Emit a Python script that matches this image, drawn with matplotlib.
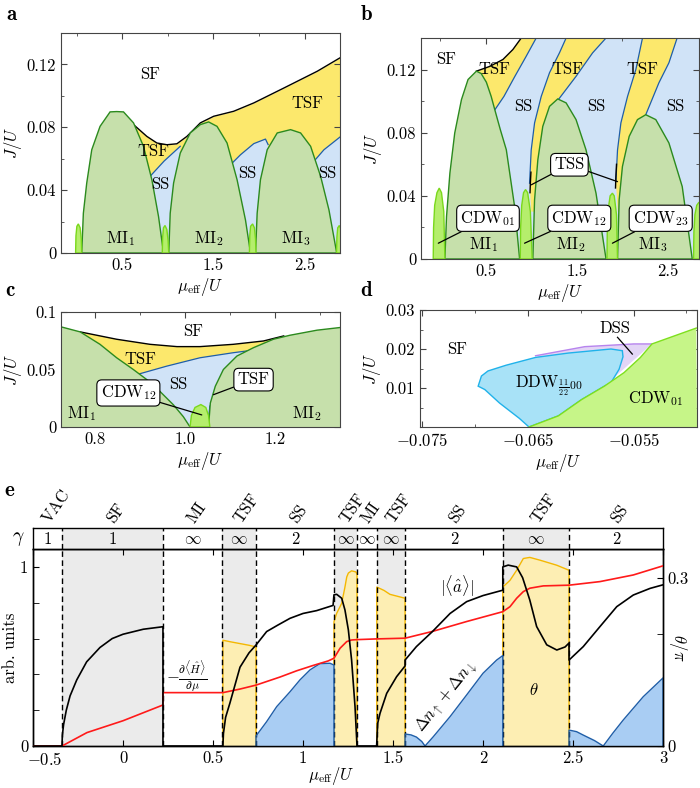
"""Phase diagrams (a-d) and a cut through the phases at fixed J (e)."""
import matplotlib
matplotlib.use("Agg")
import matplotlib.pyplot as plt

plt.rcParams.update({
    "font.family": "serif",
    "font.serif": ["cmr10"],
    "mathtext.fontset": "cm",
    "axes.unicode_minus": False,
    "axes.formatter.use_mathtext": True,
    "font.size": 12,
})

# ---------------- panel a ----------------
a_sf_mu = [0.625, 0.771, 0.881, 0.991, 1.10, 1.21, 1.357, 1.503, 1.723, 1.943, 2.273, 2.64, 2.888]
a_sf_J = [0.0817, 0.0742, 0.0700, 0.0689, 0.0695, 0.0742, 0.0828, 0.0870, 0.0902, 0.0955, 0.1050, 0.1157, 0.1242]
a_mi_lobes = [
    ([0.057, 0.075, 0.112, 0.167, 0.258, 0.368, 0.44, 0.515, 0.625, 0.734, 0.826, 0.899, 0.954],
     [0, 0.0253, 0.0445, 0.0657, 0.0806, 0.0898, 0.0900, 0.0898, 0.0828, 0.0679, 0.0466, 0.0232, 0]),
    ([1.011, 1.027, 1.064, 1.137, 1.247, 1.357, 1.448, 1.54, 1.65, 1.76, 1.852, 1.907],
     [0, 0.0253, 0.0445, 0.0636, 0.0764, 0.0817, 0.0834, 0.0806, 0.0700, 0.0466, 0.0210, 0]),
    ([1.962, 1.98, 2.016, 2.09, 2.2, 2.346, 2.456, 2.566, 2.676, 2.767, 2.852],
     [0, 0.0253, 0.0466, 0.0657, 0.0764, 0.0785, 0.0764, 0.0679, 0.0487, 0.0274, 0]),
]
a_cdw_lobes = [
    ([-0.01, -0.006, 0.004, 0.02, 0.04, 0.052, 0.057], [0, 0.011, 0.017, 0.0185, 0.016, 0.009, 0]),
    ([0.94, 0.944, 0.953, 0.97, 0.99, 1.004, 1.011], [0, 0.010, 0.016, 0.0175, 0.015, 0.008, 0]),
    ([1.895, 1.899, 1.908, 1.93, 1.95, 1.962, 1.967], [0, 0.011, 0.017, 0.0185, 0.016, 0.009, 0]),
    ([2.85, 2.854, 2.863, 2.88, 2.9, 2.9], [0, 0.010, 0.016, 0.0175, 0.015, 0]),
]
a_ss_tops = [
    ([0.789, 0.96, 1.137], [0.0477, 0.0585, 0.0679]),
    ([1.668, 1.797, 1.943, 2.071, 2.10], [0.055, 0.0625, 0.0696, 0.0725, 0.069]),
    ([2.585, 2.712, 2.888], [0.0572, 0.0657, 0.0738]),
]

# ---------------- panel b ----------------
b_sf_mu = [0.398, 0.544, 0.689, 0.798, 0.89]
b_sf_J = [0.119, 0.122, 0.1264, 0.1327, 0.14]
b_mi_lobes = [
    ([0.052, 0.07, 0.107, 0.16, 0.234, 0.306, 0.398, 0.45, 0.507, 0.56, 0.60, 0.66, 0.726, 0.817, 0.872],
     [0, 0.0269, 0.0544, 0.0798, 0.101, 0.1137, 0.119, 0.1175, 0.112, 0.103, 0.0945, 0.082, 0.0692, 0.0332, 0]),
    ([1.017, 1.036, 1.072, 1.126, 1.2, 1.29, 1.382, 1.491, 1.6, 1.71, 1.82],
     [0, 0.0375, 0.0629, 0.084, 0.0967, 0.1014, 0.0989, 0.0883, 0.0692, 0.0417, 0]),
    ([1.946, 1.964, 2.0, 2.074, 2.165, 2.256, 2.366, 2.51, 2.656, 2.766],
     [0, 0.0375, 0.0586, 0.0777, 0.0883, 0.0914, 0.0883, 0.0735, 0.0459, 0]),
]
b_cdw_lobes = [
    ([-0.076, -0.072, -0.06, -0.035, -0.01, 0.015, 0.04, 0.052], [0, 0.02, 0.034, 0.042, 0.0449, 0.042, 0.03, 0]),
    ([0.879, 0.883, 0.895, 0.915, 0.937, 0.96, 0.99, 1.01], [0, 0.02, 0.034, 0.042, 0.044, 0.042, 0.03, 0]),
    ([1.83, 1.834, 1.845, 1.865, 1.89, 1.91, 1.935, 1.946], [0, 0.019, 0.032, 0.04, 0.0417, 0.04, 0.028, 0]),
    ([2.78, 2.784, 2.795, 2.815, 2.84, 2.86, 2.86], [0, 0.017, 0.028, 0.034, 0.036, 0.034, 0]),
]
b_l1_mu = [0.60, 0.70, 0.817, 0.94, 1.054]
b_l1_J = [0.0945, 0.1030, 0.1154, 0.128, 0.14]
b_l2_mu = [0.981, 0.999, 1.036, 1.109, 1.2, 1.309, 1.382]
b_l2_J = [0.048, 0.069, 0.0862, 0.103, 0.118, 0.1306, 0.14]
b_l3_mu = [1.30, 1.491, 1.673, 1.82]
b_l3_J = [0.1012, 0.1157, 0.1306, 0.14]
b_l4_mu = [1.928, 1.946, 1.983, 2.056, 2.147, 2.22]
b_l4_J = [0.049, 0.069, 0.0862, 0.103, 0.12, 0.14]
b_l5_mu = [2.256, 2.4, 2.51, 2.6]
b_l5_J = [0.0914, 0.1116, 0.1243, 0.14]
b_tsf2_close_mu, b_tsf2_close_J = [1.2, 1.0], [0.03, 0.03]
b_tsf3_close_mu, b_tsf3_close_J = [2.15, 1.95], [0.03, 0.03]
b_tss1_mu, b_tss1_J = [0.986, 0.99, 0.996], [0.042, 0.048, 0.055]
b_tss2_mu, b_tss2_J = [1.924, 1.928, 1.935], [0.045, 0.052, 0.060]

# ---------------- panel c ----------------
c_mi1_mu = [0.7244, 0.767, 0.811, 0.848, 0.885, 0.915, 0.944, 0.974, 0.996, 1.011]
c_mi1_J = [0.0871, 0.0827, 0.0719, 0.0602, 0.050, 0.0412, 0.031, 0.0193, 0.009, 0]
c_mi2_mu = [1.052, 1.056, 1.067, 1.085, 1.115, 1.152, 1.196, 1.233, 1.293, 1.344]
c_mi2_J = [0, 0.0208, 0.0354, 0.05, 0.0617, 0.069, 0.0763, 0.0798, 0.0842, 0.0865]
c_sf_mu = [0.767, 0.848, 0.922, 0.982, 1.033, 1.107, 1.174, 1.219]
c_sf_J = [0.0827, 0.0763, 0.0719, 0.0699, 0.0699, 0.0719, 0.0748, 0.0792]
c_ss_top_mu = [0.893, 0.959, 1.033, 1.107, 1.174]
c_ss_top_J = [0.0456, 0.0529, 0.0602, 0.0646, 0.068]
c_ss_right_mu = [1.174, 1.137, 1.107, 1.085, 1.07, 1.059, 1.055, 1.05]
c_ss_right_J = [0.068, 0.0632, 0.0558, 0.0441, 0.0324, 0.0208, 0.018, 0]
c_cdw_mu = [1.011, 1.014, 1.022, 1.035, 1.046, 1.052, 1.055]
c_cdw_J = [0, 0.010, 0.017, 0.0195, 0.017, 0.010, 0]

# ---------------- panel d ----------------
d_cdw_mu = [-0.06489, -0.06211, -0.05993, -0.05776, -0.0559, -0.05435, -0.05326, -0.04907]
d_cdw_J = [0, 0.00286, 0.0070, 0.01047, 0.01395, 0.01784, 0.0213, 0.02537]
d_ddw_mu = [-0.06489, -0.06582, -0.06768, -0.06907, -0.0697, -0.06939, -0.06877, -0.06706,
            -0.06427, -0.06117, -0.05714, -0.05606, -0.05600, -0.05637, -0.05714, -0.05776,
            -0.05993, -0.06211]
d_ddw_J = [0, 0.00225, 0.00615, 0.0096, 0.01047, 0.01307, 0.01437, 0.01584,
           0.01784, 0.01896, 0.0200, 0.01956, 0.0180, 0.0148, 0.01135, 0.01047,
           0.0070, 0.00286]
d_dss_mu = [-0.06427, -0.05962, -0.05498, -0.05326, -0.05776]
d_dss_J = [0.01827, 0.0206, 0.0213, 0.0213, 0.01047]

# ---------------- panel e ----------------
e_bounds = [-0.339, 0.222, 0.55, 0.739, 1.172, 1.30, 1.41, 1.567, 2.11, 2.478]
e_phases = ["VAC", "SF", "MI", "TSF", "SS", "TSF", "MI", "TSF", "SS", "TSF", "SS"]
e_gamma = ["1", "1", r"$\infty$", r"$\infty$", "2", r"$\infty$", r"$\infty$", r"$\infty$", "2", r"$\infty$", "2"]

amp_mu = [-0.5, -0.339, -0.337, -0.33, -0.315, -0.294, -0.257, -0.202, -0.128, -0.06, 0.0, 0.113, 0.222, 0.222,
          0.555, 0.558, 0.57, 0.594, 0.65, 0.70, 0.739, 0.798, 0.86, 0.928, 1.0, 1.076, 1.167, 1.172,
          1.187, 1.215, 1.233, 1.252, 1.27, 1.289, 1.30, 1.409, 1.415, 1.428, 1.465, 1.52, 1.567, 1.567,
          1.63, 1.72, 1.817, 1.909, 2.0, 2.11, 2.11, 2.14, 2.187, 2.22, 2.26, 2.298, 2.354, 2.41, 2.456,
          2.478, 2.478, 2.557, 2.65, 2.743, 2.835, 2.928, 3.0]
amp_val = [0, 0, 0.06, 0.12, 0.2, 0.28, 0.369, 0.47, 0.55, 0.60, 0.624, 0.652, 0.666, 0,
           0, 0.07, 0.16, 0.24, 0.44, 0.52, 0.564, 0.639, 0.675, 0.713, 0.74, 0.756, 0.785, 0.844,
           0.847, 0.825, 0.76, 0.648, 0.48, 0.22, 0, 0, 0.127, 0.183, 0.294, 0.387, 0.447, 0.48,
           0.555, 0.64, 0.74, 0.806, 0.84, 0.87, 1.0, 1.01, 1.0, 0.94, 0.815, 0.667, 0.565, 0.536, 0.553,
           0.575, 0.48, 0.555, 0.667, 0.778, 0.843, 0.88, 0.90]

dens_mu = [-0.5, -0.339, -0.2, 0.0, 0.222, 0.222, 0.555, 0.65, 0.739, 0.872, 0.965, 1.057, 1.14, 1.172,
           1.206, 1.243, 1.27, 1.30, 1.41, 1.567, 1.72, 1.909, 2.11, 2.15, 2.187, 2.224, 2.26, 2.335,
           2.478, 2.65, 2.835, 3.0]
dens_val = [0, 0, 0.075, 0.141, 0.229, 0.298, 0.298, 0.318, 0.34, 0.385, 0.42, 0.45, 0.475, 0.49,
            0.546, 0.583, 0.592, 0.594, 0.598, 0.602, 0.64, 0.695, 0.75, 0.778, 0.825, 0.862, 0.881, 0.894,
            0.898, 0.918, 0.955, 1.006]

theta_segments = [
    ([0.555, 0.6, 0.65, 0.70, 0.739], [0.189, 0.186, 0.183, 0.180, 0.177]),
    ([1.172, 1.187, 1.215, 1.233, 1.243, 1.252, 1.27, 1.294, 1.30], [0.222, 0.237, 0.255, 0.284, 0.302, 0.309, 0.313, 0.311, 0.307]),
    ([1.41, 1.45, 1.483, 1.567], [0.284, 0.278, 0.271, 0.264]),
    ([2.11, 2.15, 2.187, 2.224, 2.26, 2.317, 2.41, 2.478], [0.284, 0.296, 0.314, 0.335, 0.337, 0.332, 0.323, 0.314]),
]
dn_segments = [
    ([0.739, 0.798, 0.854, 0.928, 0.983, 1.039, 1.094, 1.15, 1.172], [0.056, 0.136, 0.22, 0.303, 0.369, 0.425, 0.46, 0.462, 0.452]),
    ([1.567, 1.6, 1.63, 1.66, 1.678, 1.724, 1.817, 1.909, 2.0, 2.076, 2.11], [0.067, 0.062, 0.05, 0.025, 0.0, 0.052, 0.164, 0.285, 0.406, 0.48, 0.505]),
    ([2.478, 2.52, 2.557, 2.62, 2.668, 2.72, 2.779, 2.89, 3.0], [0.089, 0.08, 0.061, 0.03, 0.0, 0.07, 0.145, 0.275, 0.38]),
]

# ---------------- styles ----------------
YEL = "#fce86c"
BLU = "#d0e3f7"
BLU_EDGE = "#1f5ea8"
MI_C = "#c6e0ab"
MI_EDGE = "#2b8a1e"
CDW_C = "#b5ee6c"
CDW_EDGE = "#7ad81c"
GRAY = "#ebebeb"
W, H = 700, 788

fig = plt.figure(figsize=(W / 100, H / 100), dpi=100)


def px_axes(l, t, r, b):
    return fig.add_axes([l / W, 1 - b / H, (r - l) / W, (b - t) / H])


def style(ax, xmaj, xlab, xmin, ymaj, ylab, ymin):
    ax.set_xticks(xmaj, xlab)
    ax.set_xticks(xmin, minor=True)
    ax.set_yticks(ymaj, ylab)
    ax.set_yticks(ymin, minor=True)
    ax.tick_params(which="both", direction="in", top=True, right=True, labelsize=12, color="#444")
    ax.tick_params(which="major", length=4)
    ax.tick_params(which="minor", length=2.5)
    for s in ax.spines.values():
        s.set_color("#444")
        s.set_linewidth(0.8)
        s.set_zorder(10)


def lobe(ax, mu, J, fc, ec, z):
    ax.fill(mu, J, fc=fc, ec=ec, lw=1.0, zorder=z)


def label(ax, x, y, s):
    ax.text(x, y, s, ha="center", va="center", fontsize=12, zorder=9)


BOX = dict(boxstyle="round,pad=0.22,rounding_size=0.3", fc="white", ec="k", lw=0.8)
LINE = dict(arrowstyle="-", color="k", lw=0.9, shrinkA=0, shrinkB=0)


def boxed(ax, x, y, s, *targets):
    for t in targets[1:]:
        ax.annotate("", xy=t, xytext=(x, y), arrowprops=LINE, zorder=8)
    ax.annotate(s, xy=targets[0], xytext=(x, y), ha="center", va="center", fontsize=12,
                bbox=BOX, arrowprops=LINE, zorder=9)


# ---------------- a ----------------
ax = px_axes(61, 33, 340, 253)
ax.set_xlim(-0.17, 2.888)
ax.set_ylim(0, 0.14)
ax.fill_between(a_sf_mu, a_sf_J, 0, color=YEL, lw=0, zorder=1)
ax.plot(a_sf_mu, a_sf_J, color="k", lw=1.0, zorder=3)
for mu, J in a_ss_tops:
    ax.fill(mu + [mu[-1], mu[0]], J + [0, 0], fc=BLU, ec="none", zorder=2)
    ax.plot(mu, J, color=BLU_EDGE, lw=0.9, zorder=3)
for mu, J in a_mi_lobes:
    lobe(ax, mu, J, MI_C, MI_EDGE, 4)
for mu, J in a_cdw_lobes:
    lobe(ax, mu, J, CDW_C, CDW_EDGE, 5)
style(ax, [0.5, 1.5, 2.5], ["0.5", "1.5", "2.5"], [0, 1, 2],
      [0, 0.04, 0.08, 0.12], ["0", "0.04", "0.08", "0.12"], [0.02, 0.06, 0.10])
ax.set_xlabel(r"$\mu_{\rm eff}/U$", labelpad=2)
ax.set_ylabel(r"$J/U$", labelpad=2)
label(ax, 0.808, 0.1136, "SF")
label(ax, 2.53, 0.0955, "TSF")
label(ax, 0.844, 0.0646, "TSF")
label(ax, 0.918, 0.0434, "SS")
label(ax, 1.87, 0.0508, "SS")
label(ax, 2.75, 0.0508, "SS")
label(ax, 0.478, 0.0094, "MI$_1$")
label(ax, 1.448, 0.0094, "MI$_2$")
label(ax, 2.40, 0.0094, "MI$_3$")

# ---------------- b ----------------
ax = px_axes(421, 38, 699, 259)
bx_max = 2.84
ax.set_xlim(-0.21, bx_max)
ax.set_ylim(0, 0.14)
ax.fill(b_sf_mu + [bx_max, bx_max, b_sf_mu[0]], b_sf_J + [0.14, 0, 0], fc=BLU, ec="none", zorder=1)
ax.fill(b_sf_mu + b_l1_mu[::-1], b_sf_J + b_l1_J[::-1], fc=YEL, ec="none", zorder=2)
ax.fill(b_l2_mu + b_l3_mu[::-1] + b_tsf2_close_mu, b_l2_J + b_l3_J[::-1] + b_tsf2_close_J,
        fc=YEL, ec="none", zorder=2)
ax.fill(b_l4_mu + b_l5_mu[::-1] + b_tsf3_close_mu, b_l4_J + b_l5_J[::-1] + b_tsf3_close_J,
        fc=YEL, ec="none", zorder=2)
ax.plot(b_sf_mu, b_sf_J, color="k", lw=1.0, zorder=3)
for mu, J in [(b_l1_mu, b_l1_J), (b_l2_mu, b_l2_J), (b_l3_mu, b_l3_J), (b_l4_mu, b_l4_J), (b_l5_mu, b_l5_J)]:
    ax.plot(mu, J, color=BLU_EDGE, lw=0.9, zorder=3)
ax.plot(b_tss1_mu, b_tss1_J, color="k", lw=1.0, zorder=3)
ax.plot(b_tss2_mu, b_tss2_J, color="k", lw=1.0, zorder=3)
for mu, J in b_mi_lobes:
    lobe(ax, mu, J, MI_C, MI_EDGE, 4)
for mu, J in b_cdw_lobes:
    lobe(ax, mu, J, CDW_C, CDW_EDGE, 5)
style(ax, [0.5, 1.5, 2.5], ["0.5", "1.5", "2.5"], [0, 1, 2],
      [0, 0.04, 0.08, 0.12], ["0", "0.04", "0.08", "0.12"], [0.02, 0.06, 0.10])
ax.set_xlabel(r"$\mu_{\rm eff}/U$", labelpad=2)
ax.set_ylabel(r"$J/U$", labelpad=2)
label(ax, 0.07, 0.1264, "SF")
label(ax, 0.60, 0.120, "TSF")
label(ax, 1.40, 0.120, "TSF")
label(ax, 2.22, 0.120, "TSF")
label(ax, 0.908, 0.0967, "SS")
label(ax, 1.71, 0.0967, "SS")
label(ax, 2.584, 0.0967, "SS")
label(ax, 0.47, 0.0089, "MI$_1$")
label(ax, 1.435, 0.0089, "MI$_2$")
label(ax, 2.33, 0.0089, "MI$_3$")
boxed(ax, 1.418, 0.0597, "TSS", (1.0, 0.047), (1.946, 0.049))
boxed(ax, 0.525, 0.0258, "CDW$_{01}$", (-0.02, 0.010))
boxed(ax, 1.527, 0.0258, "CDW$_{12}$", (0.926, 0.010))
boxed(ax, 2.42, 0.0258, "CDW$_{23}$", (1.89, 0.010))

# ---------------- c ----------------
ax = px_axes(61, 312, 340, 427)
cx_min, cx_max = 0.7244, 1.344
ax.set_xlim(cx_min, cx_max)
ax.set_ylim(0, 0.1)
ax.fill(c_sf_mu + [1.10, 0.95], c_sf_J + [0, 0], fc=YEL, ec="none", zorder=1)
ax.fill(c_ss_top_mu + c_ss_right_mu[1:] + [0.95], c_ss_top_J + c_ss_right_J[1:] + [0],
        fc=BLU, ec="none", zorder=2)
ax.plot(c_sf_mu, c_sf_J, color="k", lw=1.0, zorder=3)
ax.plot(c_ss_top_mu, c_ss_top_J, color=BLU_EDGE, lw=0.9, zorder=3)
ax.plot(c_ss_right_mu, c_ss_right_J, color=BLU_EDGE, lw=0.9, zorder=3)
ax.fill([cx_min] + c_mi1_mu, [0] + c_mi1_J, fc=MI_C, ec="none", zorder=4)
ax.plot(c_mi1_mu, c_mi1_J, color=MI_EDGE, lw=1.0, zorder=4)
ax.fill(c_mi2_mu + [cx_max], c_mi2_J + [0], fc=MI_C, ec="none", zorder=4)
ax.plot(c_mi2_mu, c_mi2_J, color=MI_EDGE, lw=1.0, zorder=4)
lobe(ax, c_cdw_mu, c_cdw_J, CDW_C, CDW_EDGE, 5)
style(ax, [0.8, 1.0, 1.2], ["0.8", "1.0", "1.2"], [0.9, 1.1, 1.3],
      [0, 0.05, 0.1], ["0", "0.05", "0.1"], [0.025, 0.075])
ax.set_xlabel(r"$\mu_{\rm eff}/U$", labelpad=2)
ax.set_ylabel(r"$J/U$", labelpad=2)
label(ax, 1.018, 0.0836, "SF")
label(ax, 0.90, 0.0588, "TSF")
label(ax, 0.985, 0.0368, "SS")
label(ax, 0.77, 0.012, "MI$_1$")
label(ax, 1.27, 0.012, "MI$_2$")
boxed(ax, 0.874, 0.0296, "CDW$_{12}$", (1.037, 0.0105))
boxed(ax, 1.152, 0.0412, "TSF", (1.063, 0.0281))

# ---------------- d ----------------
ax = px_axes(420, 310, 697, 427)
dx_max = -0.049
ax.set_xlim(-0.0752, dx_max)
ax.set_ylim(0, 0.03)
ax.fill(d_dss_mu, d_dss_J, fc="#e3d5f6", ec="none", zorder=1)
ax.plot(d_dss_mu[:4], d_dss_J[:4], color="#b784ee", lw=1.0, zorder=2)
ax.fill(d_ddw_mu, d_ddw_J, fc="#a8e2f7", ec="#20b2ea", lw=1.0, zorder=3)
ax.fill(d_cdw_mu + [dx_max], d_cdw_J + [0], fc="#c6f588", ec="none", zorder=4)
ax.plot(d_cdw_mu, d_cdw_J, color="#7ee01e", lw=1.0, zorder=4)
style(ax, [-0.075, -0.065, -0.055], [r"$-0.075$", r"$-0.065$", r"$-0.055$"], [-0.07, -0.06, -0.05],
      [0.01, 0.02, 0.03], ["0.01", "0.02", "0.03"], [0.005, 0.015, 0.025])
ax.set_xlabel(r"$\mu_{\rm eff}/U$", labelpad=2)
ax.set_ylabel(r"$J/U$", labelpad=2)
label(ax, -0.0717, 0.0200, "SF")
label(ax, -0.06303, 0.0105, r"DDW$_{\frac{1}{2}\frac{1}{2}00}$")
label(ax, -0.0529, 0.0074, "CDW$_{01}$")
label(ax, -0.0568, 0.0252, "DSS")
ax.plot([-0.05652, -0.05512], [0.0230, 0.0187], color="k", lw=0.9, zorder=9)

# ---------------- e ----------------
ax_g = px_axes(33, 528, 663, 549)
ax_e = px_axes(33, 549, 663, 746)
ax_t = ax_e.twinx()
ax_t.set_zorder(ax_e.get_zorder() - 1)
ax_e.set_facecolor("none")

edges = [-0.5] + e_bounds + [3.0]
for lo, hi, ph, gm in zip(edges[:-1], edges[1:], e_phases, e_gamma):
    if ph in ("SF", "TSF"):
        ax_g.axvspan(lo, hi, color=GRAY, lw=0, zorder=0)
        ax_t.axvspan(lo, hi, color=GRAY, lw=0, zorder=0)
    mid = 0.5 * (lo + hi)
    ax_g.text(mid, 0.45, gm, ha="center", va="center", fontsize=12)
    ax_g.text(mid - 0.01, 1.3, ph, transform=ax_g.get_xaxis_transform(), rotation=55,
              rotation_mode="anchor", ha="left", va="center", fontsize=12)
for b in e_bounds:
    ax_g.axvline(b, color="k", lw=1.0, ls=(0, (4, 2.5)))
    ax_e.axvline(b, color="k", lw=1.0, ls=(0, (4, 2.5)), zorder=2)

ax_g.set_xlim(-0.5, 3)
ax_g.set_ylim(0, 1)
ax_g.set_xticks([])
ax_g.set_yticks([])
for s in ax_g.spines.values():
    s.set_linewidth(1.0)
ax_g.text(-0.024, 0.5, r"$\gamma$", transform=ax_g.transAxes, ha="center", va="center", fontsize=14)

for mu, th in theta_segments:
    ax_t.fill_between(mu, th, 0, color="#fdeeb3", lw=0, zorder=1)
    ax_t.plot([mu[0]] + mu + [mu[-1]], [0] + th + [0], color="#f5b800", lw=1.0, zorder=2)
for mu, dn in dn_segments:
    ax_e.fill_between(mu, dn, 0, color="#a9cdf3", lw=0, zorder=1)
    ax_e.plot([mu[0]] + mu + [mu[-1]], [0] + dn + [0], color=BLU_EDGE, lw=1.0, zorder=2)
ax_e.plot(dens_mu, dens_val, color="#ff1a1a", lw=1.2, zorder=3)
ax_e.plot(amp_mu, amp_val, color="k", lw=1.2, zorder=4)

ax_e.set_xlim(-0.5, 3)
ax_e.set_ylim(0, 1.1)
ax_t.set_ylim(0, 0.352)
ax_e.set_xticks([-0.5, 0, 0.5, 1, 1.5, 2, 2.5, 3], ["", "0", "0.5", "1", "1.5", "2", "2.5", "3"])
# the "-0.5" label sits a little right of its tick, as in the original
ax_e.annotate(r"$-0.5$", xy=(-0.5, 0), xycoords=("data", "axes fraction"), xytext=(8.5, -3.5),
              textcoords="offset points", ha="center", va="top", fontsize=12)
ax_e.set_yticks([0, 1], ["0", "1"])
ax_e.set_yticks([0.2, 0.4, 0.6, 0.8], minor=True)
ax_e.tick_params(which="both", direction="in", top=True, right=False, labelsize=12)
ax_e.tick_params(which="major", length=4)
ax_e.tick_params(which="minor", length=4)
ax_t.set_yticks([0, 0.3], ["0", "0.3"])
ax_t.set_yticks([0.1, 0.2], minor=True)
ax_t.tick_params(which="both", direction="in", labelsize=12, length=4)
for a_ in (ax_e, ax_t):
    for s in a_.spines.values():
        s.set_linewidth(1.0)
ax_e.set_xlabel(r"$\mu_{\rm eff}/U$", labelpad=2)
ax_e.xaxis.set_label_coords((331 - 33) / 630, -0.095)
ax_e.set_ylabel("arb. units")
ax_e.yaxis.set_label_coords(-0.024, 0.5)
ax_t.set_ylabel(r"$\theta/\pi$", rotation=270, fontsize=12)
ax_t.yaxis.set_label_coords(1.041, 0.50)

ax_e.text(0.24, 0.385, r"$-\frac{\partial\langle\hat{H}\rangle}{\partial\mu}$", ha="left", va="center", fontsize=12, zorder=6)
ax_e.text(1.855, 0.89, r"$|\langle\hat{a}\rangle|$", ha="center", va="center", fontsize=12, zorder=6)
ax_e.text(2.28, 0.31, r"$\theta$", ha="center", va="center", fontsize=12, zorder=6)
ax_e.text(1.798, 0.275, r"$\Delta n_\uparrow+\Delta n_\downarrow$", rotation=51, ha="center", va="center",
          fontsize=12, zorder=6)

for s, x, y in [("a", 11, 15), ("b", 366, 15), ("c", 10, 290), ("d", 366, 290), ("e", 9, 491)]:
    fig.text(x / W, 1 - y / H, s, fontfamily="cmb10", fontsize=15, ha="center", va="center")

fig.savefig("out.png", dpi=100)
